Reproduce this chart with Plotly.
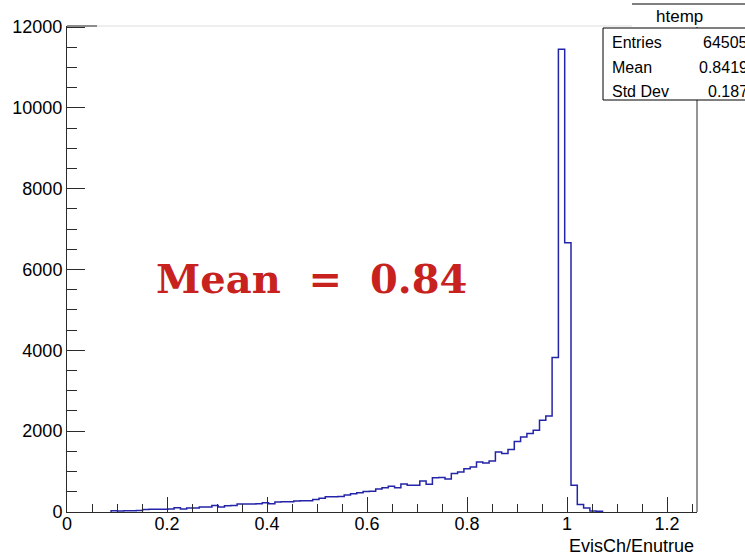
import plotly.graph_objects as go

# ---------------- data ----------------
x_min, x_max, n_bins = 0.0, 1.26, 100
first_bin = 7  # index of first non-empty bin
counts = [
    30, 25, 30, 28, 35,                # bins 7-11
    62, 68, 65, 70, 72,                # 12-16
    105, 75, 100, 98, 125, 122,        # 17-22
    158, 125, 155, 160,                # 23-26
    195, 198, 200, 205, 228, 202,      # 27-32
    250, 252, 255, 272, 276, 280,      # 33-38
    308, 339, 375, 380, 382, 421,      # 39-44
    454, 479, 510, 515, 570, 603,      # 45-50
    636, 600, 695, 660, 662, 767,      # 51-56
    685, 848, 852, 817, 950, 990,      # 57-62
    1073, 1114, 1237, 1213, 1262, 1485,  # 63-68
    1450, 1548, 1745, 1856, 1945, 2022,  # 69-74
    2270, 2375, 3825, 11450, 6660, 660,  # 75-80
    183, 100, 25, 20,                    # 81-84
]
x_ticks = [0, 0.2, 0.4, 0.6, 0.8, 1.0, 1.2]
y_max = 12025

hist_name = "htemp"
stat_labels = ["Entries", "Mean", "Std Dev"]
stat_values = ["64505", "0.8419", "0.187"]
x_title = "EvisCh/Enutrue"
big_text = "Mean\u00a0\u00a0=\u00a0\u00a00.84"

# ---------------- build histogram outline ----------------
bw = (x_max - x_min) / n_bins
edges = [x_min + (first_bin + i) * bw for i in range(len(counts) + 1)]
xs = [edges[0]] + edges[:-1] + [edges[-1]]
ys = [0] + counts + [0]

# ---------------- layout helpers ----------------
W, H = 745, 557
L, R, T, B = 67, 48, 26, 45
PW, PH = W - L - R, H - T - B


def px(x):
    return (x - L) / PW


def py(y):
    return (H - B - y) / PH


FONT = "Liberation Sans, Arial, Helvetica, sans-serif"
AX = "#2b2b2b"

fig = go.Figure()
fig.add_trace(go.Scatter(
    x=xs, y=ys, mode="lines",
    line=dict(color="#2424a8", width=1.5, shape="hv"),
    hoverinfo="skip", showlegend=False,
))

fig.update_layout(
    width=W, height=H,
    margin=dict(l=L, r=R, t=T, b=B, autoexpand=False),
    paper_bgcolor="white", plot_bgcolor="white",
    showlegend=False,
    xaxis=dict(
        range=[x_min, x_max], showgrid=False, zeroline=False, automargin=False,
        showline=True, linecolor=AX, linewidth=1,
        ticks="inside", ticklen=15, tickwidth=1, tickcolor=AX,
        tickmode="array", tickvals=x_ticks,
        ticktext=[("%g" % v) for v in x_ticks],
        ticklabelstandoff=-5,
        minor=dict(dtick=0.05, tick0=0, ticks="inside", ticklen=8,
                   tickwidth=1, tickcolor=AX, showgrid=False),
        tickfont=dict(family=FONT, size=18, color="black"),
    ),
    yaxis=dict(
        range=[0, y_max], showgrid=False, zeroline=False, automargin=False,
        showline=True, linecolor=AX, linewidth=1,
        ticks="inside", ticklen=18, tickwidth=1, tickcolor=AX,
        dtick=2000, tick0=0, tickformat="d",
        minor=dict(dtick=500, tick0=0, ticks="inside", ticklen=10,
                   tickwidth=1, tickcolor=AX, showgrid=False),
        tickfont=dict(family=FONT, size=18, color="black"),
    ),
)

shapes = [
    # top frame line (light) and right frame line
    dict(type="line", xref="paper", yref="paper", x0=0, x1=1, y0=1, y1=1,
         line=dict(color="#dddddd", width=1), layer="above"),
    dict(type="line", xref="paper", yref="paper", x0=px(67), x1=px(97), y0=1, y1=1,
         line=dict(color=AX, width=1), layer="above"),
    dict(type="line", xref="paper", yref="paper", x0=1, x1=1, y0=0, y1=1,
         line=dict(color=AX, width=1), layer="above"),
    # title box top line
    dict(type="rect", xref="paper", yref="paper", x0=px(632), x1=px(780),
         y0=py(27), y1=py(4), line=dict(width=0), fillcolor="white", layer="above"),
    dict(type="line", xref="paper", yref="paper", x0=px(632), x1=px(780),
         y0=py(4), y1=py(4), line=dict(color="black", width=1), layer="above"),
    # stats box
    dict(type="rect", xref="paper", yref="paper", x0=px(603), x1=px(780),
         y0=py(100), y1=py(28), line=dict(color="black", width=1),
         fillcolor="white", layer="above"),
]
fig.update_layout(shapes=shapes)

ann = []
ann.append(dict(text=big_text, xref="paper", yref="paper", x=px(154), y=py(278),
                xanchor="left", yanchor="middle", showarrow=False,
                font=dict(family="DejaVu Serif, serif", size=40, color="#c8221f",
                          weight="bold")))
ann.append(dict(text=x_title, xref="paper", yref="paper", x=px(696), y=py(546),
                xanchor="right", yanchor="middle", showarrow=False,
                font=dict(family=FONT, size=18, color="black")))
ann.append(dict(text=hist_name, xref="paper", yref="paper", x=px(679), y=py(17),
                xanchor="center", yanchor="middle", showarrow=False,
                font=dict(family=FONT, size=17, color="black")))
row_y = [42.5, 67.5, 91.5]
for lab, val, yy in zip(stat_labels, stat_values, row_y):
    ann.append(dict(text=lab, xref="paper", yref="paper", x=px(610), y=py(yy),
                    xanchor="left", yanchor="middle", showarrow=False,
                    font=dict(family=FONT, size=16, color="black")))
    ann.append(dict(text=val, xref="paper", yref="paper", x=px(750), y=py(yy),
                    xanchor="right", yanchor="middle", showarrow=False,
                    font=dict(family=FONT, size=16, color="black")))
fig.update_layout(annotations=ann)

fig.write_html("out.html",
               config={"displayModeBar": False},
               post_script="document.body.style.margin='0';"
                           "document.body.style.overflow='hidden';")
